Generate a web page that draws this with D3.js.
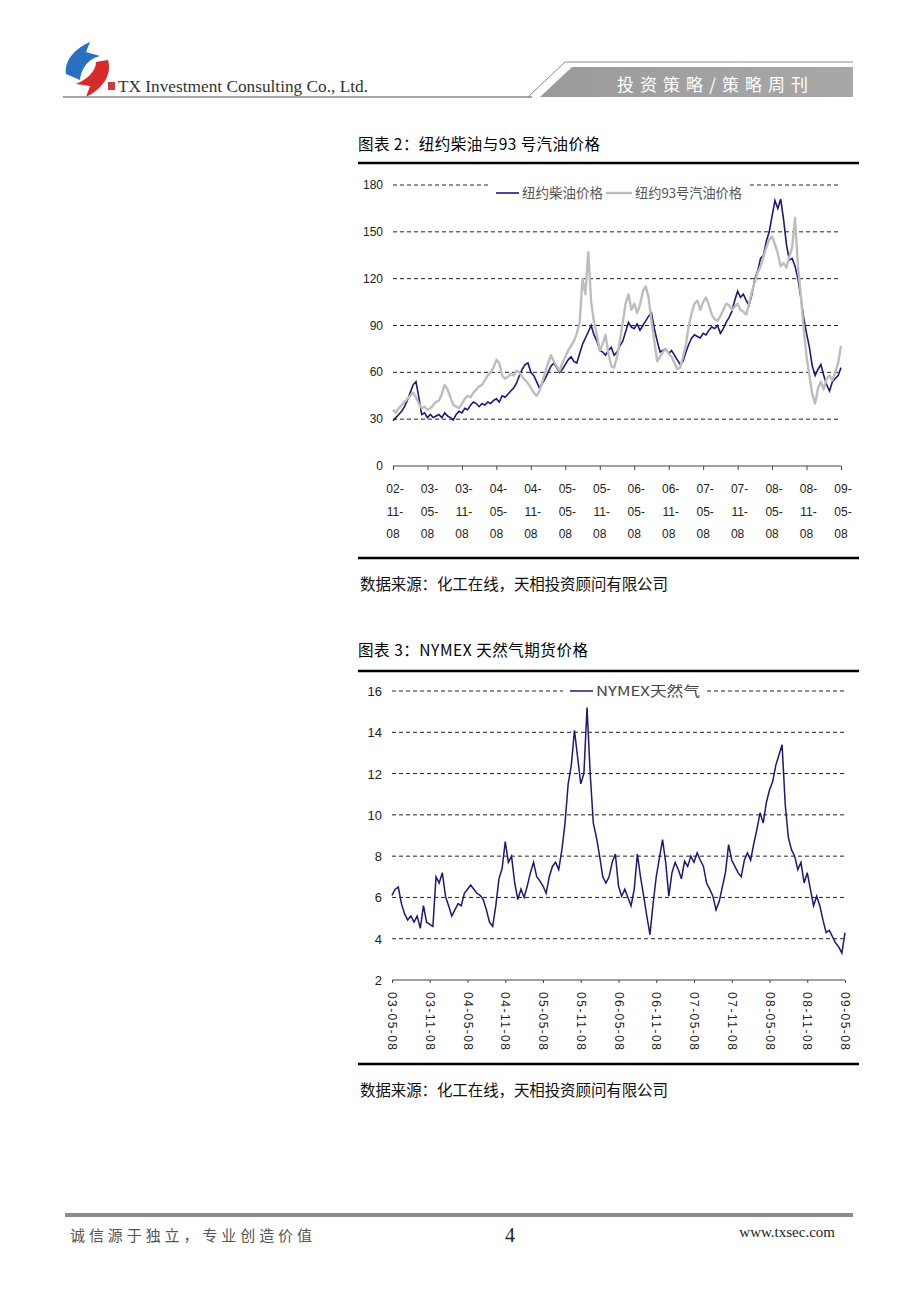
<!DOCTYPE html>
<html>
<head>
<meta charset="utf-8">
<script src="https://cdn.jsdelivr.net/npm/d3@7"></script>
<style>
  html, body { margin: 0; padding: 0; background: #fff; }
  svg { display: block; }
</style>
</head>
<body>
<svg id="page" width="920" height="1302"></svg>
<script>
// ---------- DATA ----------
// Chart 2: NY diesel & 93 gasoline, half-month steps from 02-11-08 to 09-05-08 (month index 0..78)
const chart1Title = "图表 2：纽约柴油与93 号汽油价格";
const chart1Series = ["纽约柴油价格", "纽约93号汽油价格"];
const chart1XTicks = ["02-11-08","03-05-08","03-11-08","04-05-08","04-11-08","05-05-08","05-11-08","06-05-08","06-11-08","07-05-08","07-11-08","08-05-08","08-11-08","09-05-08"];
const chart1YTicks = [0, 30, 60, 90, 120, 150, 180];
const dieselValues = [
  29,31,33,35,38,42,47,52,54,44,33,34,31,33,31,32,33,31,34,32,31,29.5,33,35,34,37,36,39,41,40,
  38,40,39,41,40,42,43,41,45,44,46,48,50,53,58,62,65,66,60,58,54,50,53,56,60,64,66,63,60,62,
  65,68,70,67,66,72,78,82,86,90,84,80,74,73,71,74,76,71,73,77,80,86,92,89,88,91,87,90,93,96,
  98,88,80,73,74,75,72,74,71,68,65,67,73,78,82,84,83,82,85,84,87,89,88,90,85,88,92,95,99,106,
  112,108,110,106,103,110,120,125,133,135,144,150,160,170,165,171,158,142,132,133,128,120,108,95,85,76,64,58,62,65,
  58,52,48,54,56,58,63
];
const gasolineValues = [
  36,34,37,39,41,43,45,47,44,40,37,38,36,37,39,41,42,46,52,49,44,39,38,37,40,43,45,44,47,49,
  51,52,55,58,60,63,68,66,58,56,57,59,58,61,60,57,55,53,50,47,45,48,54,60,66,71,67,64,61,66,
  70,74,77,80,85,92,120,110,137,105,92,84,74,78,84,72,64,63,70,80,92,104,110,100,104,98,103,112,115,108,
  93,80,67,70,73,75,72,70,66,62,63,70,78,90,98,104,106,100,105,108,103,97,94,93,96,100,104,103,100,102,
  104,100,99,97,104,112,118,124,128,134,140,145,147,142,136,128,130,127,134,140,159,128,110,88,70,58,46,40,50,54,
  49,56,58,55,60,66,77
];

// Chart 3: NYMEX natural gas, half-month steps from 03-05-08 to 09-05-08 (month index 0..72)
const chart2Title = "图表 3：NYMEX 天然气期货价格";
const chart2Series = ["NYMEX天然气"];
const chart2XTicks = ["03-05-08","03-11-08","04-05-08","04-11-08","05-05-08","05-11-08","06-05-08","06-11-08","07-05-08","07-11-08","08-05-08","08-11-08","09-05-08"];
const chart2YTicks = [2, 4, 6, 8, 10, 12, 14, 16];
const gasValues = [
  6.1,6.4,6.5,5.7,5.2,4.9,5.1,4.8,5.1,4.5,5.6,4.8,4.7,4.6,7.0,6.7,7.2,6.06,5.6,5.1,
  5.4,5.7,5.6,6.2,6.4,6.6,6.4,6.2,6.1,5.9,5.4,4.8,4.6,5.6,6.9,7.4,8.7,7.7,8.0,6.7,
  5.9,6.4,6.0,6.55,7.2,7.7,7.0,6.8,6.55,6.2,7.0,7.5,7.7,7.35,8.3,9.6,11.5,12.4,14.1,12.8,
  11.5,12.0,15.2,12.0,9.6,8.9,8.0,7.0,6.7,7.0,7.7,8.1,6.55,6.06,6.4,6.0,5.6,6.4,8.1,7.0,
  6.06,5.1,4.2,5.7,7.0,7.9,8.8,7.7,6.06,7.2,7.7,7.35,6.9,7.76,7.5,8.0,7.7,8.16,7.8,7.5,
  6.7,6.4,6.06,5.4,5.8,6.5,7.2,8.56,7.8,7.5,7.2,7.0,7.8,8.16,7.8,8.6,9.3,10.1,9.6,10.6,
  11.2,11.6,12.4,12.9,13.4,10.5,8.9,8.3,8.0,7.35,7.7,6.7,7.2,6.4,5.6,6.06,5.6,4.9,4.3,4.4,
  4.1,3.8,3.6,3.3,4.3
];

const sourceText = "数据来源：化工在线，天相投资顾问有限公司";

// ---------- DRAW ----------
const svg = d3.select("#page");
const CJK = "'Noto Sans CJK SC', 'Noto Sans', sans-serif";
const NARROW = "'Liberation Sans Narrow', 'Liberation Sans', Arial, sans-serif";
const SERIF = "'Liberation Serif', 'DejaVu Serif', serif";

// Header
const hdr = svg.append("g");
hdr.append("path").attr("d", "M66,74 C64,60 76,48 90,42 L86,52 L100,56 C92,58 82,64 80,80 Z").attr("fill", "#2a6fc0");
hdr.append("path").attr("d", "M108,60 C112,74 104,88 86,97 L90,86 L76,84 C86,80 96,72 96,62 Z").attr("fill", "#d92a2a");
hdr.append("rect").attr("x", 108).attr("y", 82).attr("width", 7).attr("height", 8).attr("fill", "#c83c3c");
hdr.append("text").attr("x", 118).attr("y", 92).attr("font-family", SERIF).attr("font-size", 17)
  .attr("fill", "#333").attr("textLength", 250).attr("lengthAdjust", "spacingAndGlyphs")
  .text("TX Investment Consulting Co., Ltd.");
hdr.append("line").attr("x1", 63).attr("x2", 532).attr("y1", 97).attr("y2", 97).attr("stroke", "#8a8a8a").attr("stroke-width", 1.5);
const grad = svg.append("defs").append("linearGradient").attr("id", "bannerGrad").attr("x1", 0).attr("x2", 1);
grad.append("stop").attr("offset", "0%").attr("stop-color", "#9a9a9a");
grad.append("stop").attr("offset", "100%").attr("stop-color", "#a8a8a8");
hdr.append("path").attr("d", "M540,97 L572,67 L853,67 L853,97 Z").attr("fill", "url(#bannerGrad)");
hdr.append("path").attr("d", "M528,97 L565,62 L853,62").attr("fill", "none").attr("stroke", "#8a8a8a").attr("stroke-width", 1);
hdr.append("text").attr("x", 617).attr("y", 91).attr("font-family", CJK).attr("font-size", 17)
  .attr("fill", "#fff").attr("textLength", 191).attr("lengthAdjust", "spacing")
  .text("投资策略/策略周刊");

// Footer
svg.append("rect").attr("x", 65).attr("y", 1213).attr("width", 788).attr("height", 4).attr("fill", "#8c8c8c");
svg.append("text").attr("x", 70).attr("y", 1241).attr("font-family", CJK).attr("font-size", 15)
  .attr("fill", "#555").attr("textLength", 242).attr("lengthAdjust", "spacing").text("诚信源于独立，专业创造价值");
svg.append("text").attr("x", 510).attr("y", 1242).attr("text-anchor", "middle").attr("font-family", SERIF).attr("font-size", 20)
  .attr("fill", "#222").text("4");
svg.append("text").attr("x", 835).attr("y", 1237).attr("text-anchor", "end").attr("font-family", SERIF).attr("font-size", 15)
  .attr("fill", "#222").text("www.txsec.com");

// Generic frame helper
function frame(titleText, titleY, topY, bottomY, srcY, titleLen) {
  svg.append("text").attr("x", 358).attr("y", titleY).attr("font-family", CJK).attr("font-size", 15.5)
    .attr("fill", "#000").attr("textLength", titleLen).attr("lengthAdjust", "spacing").text(titleText);
  svg.append("line").attr("x1", 358).attr("x2", 859).attr("y1", topY).attr("y2", topY).attr("stroke", "#000").attr("stroke-width", 2.5);
  svg.append("line").attr("x1", 358).attr("x2", 859).attr("y1", bottomY).attr("y2", bottomY).attr("stroke", "#000").attr("stroke-width", 2.5);
  svg.append("text").attr("x", 360).attr("y", srcY).attr("font-family", CJK).attr("font-size", 15.5)
    .attr("fill", "#111").attr("textLength", 308).attr("lengthAdjust", "spacing").text(sourceText);
}

// ---------- Chart 1 ----------
frame(chart1Title, 150, 163, 558, 590, 242);
{
  const g = svg.append("g");
  const x = d3.scaleLinear().domain([0, 78]).range([393, 841]);
  const y = d3.scaleLinear().domain([0, 180]).range([466, 185]);
  g.selectAll(".grid").data(chart1YTicks.filter(d => d > 0)).join("line")
    .attr("x1", 393).attr("x2", 841).attr("y1", d => y(d)).attr("y2", d => y(d))
    .attr("stroke", "#222").attr("stroke-width", 1).attr("stroke-dasharray", "4,3");
  g.selectAll(".yl").data(chart1YTicks).join("text")
    .attr("x", 383).attr("y", d => y(d) + 4).attr("text-anchor", "end")
    .attr("font-family", NARROW).attr("font-size", 12).attr("fill", "#222").text(d => d);
  const tickM = chart1XTicks.map((_, i) => i * 6);
  const xAxis = d3.axisBottom(x).tickValues(tickM).tickSize(4).tickFormat("");
  const ax = g.append("g").attr("transform", `translate(0,${y(0)})`).call(xAxis);
  ax.select(".domain").attr("stroke", "#444").attr("d", `M${x(0)},0H${x(78)}`);
  ax.selectAll(".tick line").attr("stroke", "#444");
  chart1XTicks.forEach((lab, i) => {
    const parts = lab.split("-");
    const t = g.append("text").attr("text-anchor", "middle").attr("font-family", NARROW).attr("font-size", 12).attr("fill", "#222");
    [parts[0] + "-", parts[1] + "-", parts[2]].forEach((p, k) => {
      t.append("tspan").attr("x", x(tickM[i]) + (k < 2 ? 2 : 0)).attr("y", 493 + k * 22.5).text(p);
    });
  });
  const line = d3.line().x((d, i) => x(i * 0.5)).y(d => y(d));
  g.append("path").datum(dieselValues).attr("d", line).attr("fill", "none").attr("stroke", "#1b1a78").attr("stroke-width", 1.6);
  g.append("path").datum(gasolineValues).attr("d", line).attr("fill", "none").attr("stroke", "#bdbdbd").attr("stroke-width", 2.4).attr("stroke-linejoin", "round");
  g.append("rect").attr("x", 489).attr("y", 178).attr("width", 258).attr("height", 22).attr("fill", "#fff");
  g.append("line").attr("x1", 496).attr("x2", 519).attr("y1", 193).attr("y2", 193).attr("stroke", "#1b1a78").attr("stroke-width", 1.6);
  g.append("text").attr("x", 522).attr("y", 198).attr("font-family", CJK).attr("font-size", 13.5).attr("fill", "#555").text(chart1Series[0]);
  g.append("line").attr("x1", 606).attr("x2", 632).attr("y1", 193).attr("y2", 193).attr("stroke", "#bdbdbd").attr("stroke-width", 2.4);
  g.append("text").attr("x", 635).attr("y", 198).attr("font-family", CJK).attr("font-size", 13.5).attr("fill", "#555")
    .attr("textLength", 107).attr("lengthAdjust", "spacingAndGlyphs").text(chart1Series[1]);
}

// ---------- Chart 2 ----------
frame(chart2Title, 656, 671, 1064, 1096, 230);
{
  const g = svg.append("g");
  const x = d3.scaleLinear().domain([0, 72]).range([392, 845]);
  const y = d3.scaleLinear().domain([2, 16]).range([980, 691]);
  g.selectAll(".grid").data(chart2YTicks.filter(d => d > 2)).join("line")
    .attr("x1", 392).attr("x2", 845).attr("y1", d => y(d)).attr("y2", d => y(d))
    .attr("stroke", "#222").attr("stroke-width", 1).attr("stroke-dasharray", "4,3");
  g.selectAll(".yl").data(chart2YTicks).join("text")
    .attr("x", 382).attr("y", d => y(d) + 5).attr("text-anchor", "end")
    .attr("font-family", "'Liberation Sans', Arial, sans-serif").attr("font-size", 13).attr("fill", "#222").text(d => d);
  const tickM = chart2XTicks.map((_, i) => i * 6);
  const xAxis = d3.axisBottom(x).tickValues(tickM).tickSize(3).tickFormat("");
  const ax = g.append("g").attr("transform", `translate(0,${y(2)})`).call(xAxis);
  ax.select(".domain").attr("stroke", "#444").attr("d", `M${x(0)},0H${x(72)}`);
  ax.selectAll(".tick line").attr("stroke", "#444");
  chart2XTicks.forEach((lab, i) => {
    const tx = x(tickM[i]) - 4;
    g.append("text").attr("transform", `translate(${tx},992) rotate(90)`)
      .attr("font-family", "'Liberation Sans', Arial, sans-serif").attr("font-size", 12).attr("fill", "#222")
      .attr("textLength", 58).attr("lengthAdjust", "spacing").text(lab);
  });
  const line = d3.line().x((d, i) => x(i * 0.5)).y(d => y(d));
  g.append("path").datum(gasValues).attr("d", line).attr("fill", "none").attr("stroke", "#1b1a78").attr("stroke-width", 1.5);
  g.append("rect").attr("x", 563).attr("y", 683).attr("width", 143).attr("height", 16).attr("fill", "#fff");
  g.append("line").attr("x1", 570).attr("x2", 593).attr("y1", 691).attr("y2", 691).attr("stroke", "#1b1a78").attr("stroke-width", 1.5);
  g.append("text").attr("x", 596).attr("y", 696).attr("font-family", CJK).attr("font-size", 13.5).attr("fill", "#444")
    .attr("textLength", 104).attr("lengthAdjust", "spacingAndGlyphs").text(chart2Series[0]);
}
</script>
</body>
</html>
